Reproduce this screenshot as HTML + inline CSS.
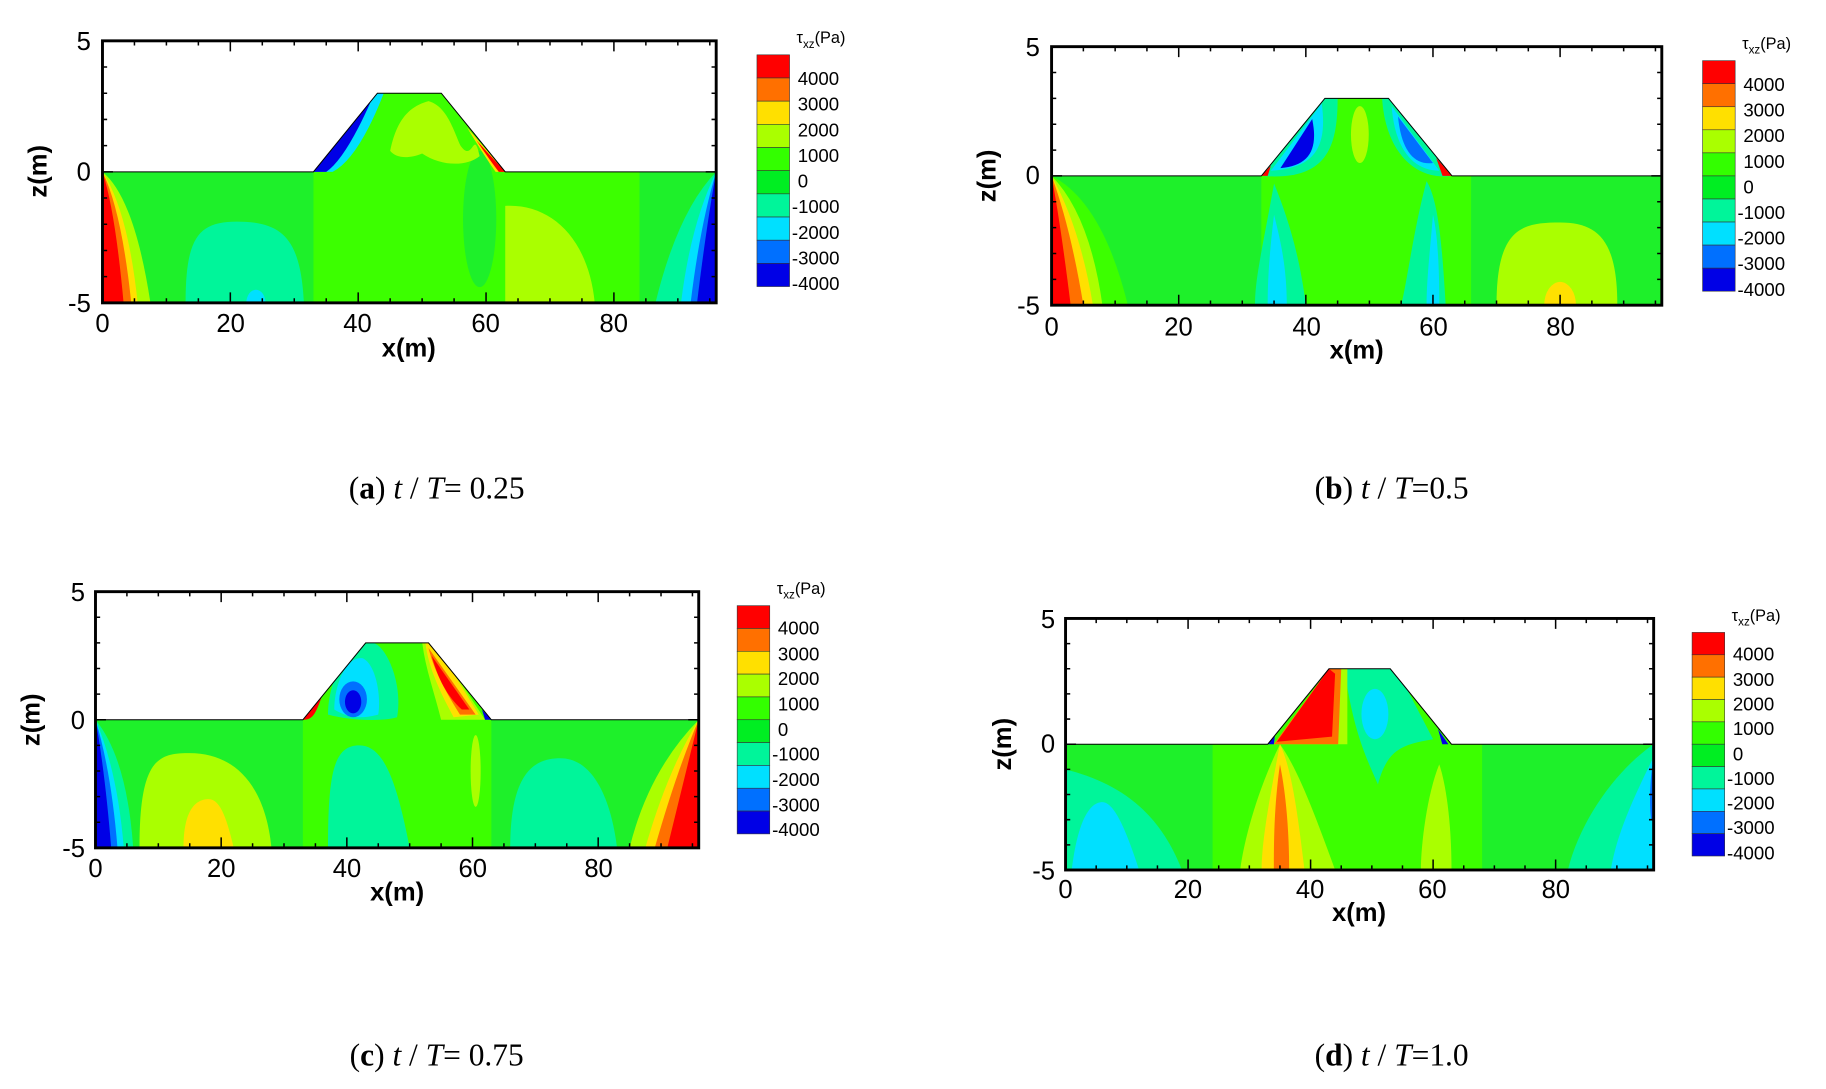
<!DOCTYPE html>
<html><head><meta charset="utf-8"><style>
html,body{margin:0;padding:0;background:#fff;}
svg{display:block}
.tl{font-family:"Liberation Sans",Arial,sans-serif;font-size:22px;fill:#000}
.al{font-family:"Liberation Sans",Arial,sans-serif;font-size:22px;font-weight:bold;fill:#000}
.cl{font-family:"Liberation Sans",Arial,sans-serif;font-size:16px;fill:#000}
.ct{font-family:"Liberation Sans",Arial,sans-serif;font-size:14px;fill:#000}
.cap{font-family:"Liberation Serif","Times New Roman",serif;font-size:27px;fill:#000}
.ln{fill:none;stroke:#000;stroke-width:1;vector-effect:non-scaling-stroke}
</style></head><body>
<svg id="s" width="1826" height="1089" viewBox="0 0 1568 935" xmlns="http://www.w3.org/2000/svg">
<defs>
<clipPath id="dom" clipPathUnits="userSpaceOnUse"><polygon points="0,5 33,5 43,2 53,2 63,5 96,5 96,10 0,10"/></clipPath>
</defs>

<!-- Panel A -->
<g transform="translate(88,35) scale(5.4896,22.5)">
<g clip-path="url(#dom)">
<rect x="0" y="0" width="96" height="10" fill="#1ef02a"/>
<rect x="33" y="0" width="51" height="10" fill="#3cff00"/>
<ellipse cx="59" cy="6.8" rx="2.6" ry="2.6" fill="#1ef02a"/>
<path d="M13,10 C13,7.5 15,6.9 21,6.9 C28,6.9 31,7.5 31.5,10Z" fill="#00f59a"/>
<ellipse cx="24" cy="10" rx="1.5" ry="0.5" fill="#00e0ff"/>
<path d="M63,10 L63,6.3 C70,6.2 76,7.5 77,10Z" fill="#aaff00"/>
<path d="M0,5 Q5,6 7.5,10 L0,10Z" fill="#aaff00"/>
<path d="M0,5 Q4,6.5 5.5,10 L0,10Z" fill="#ffe000"/>
<path d="M0,5 Q3,6.5 4.5,10 L0,10Z" fill="#ff7000"/>
<path d="M0,5 Q2,6.5 3.3,10 L0,10Z" fill="#ff0000"/>
<path d="M96,5 Q90,6.5 86.5,10 L96,10Z" fill="#00f59a"/>
<path d="M96,5 Q92,7 90.5,10 L96,10Z" fill="#00e0ff"/>
<path d="M96,5 Q93.5,7 92,10 L96,10Z" fill="#0070ff"/>
<path d="M96,5 Q94.5,7 93,10 L96,10Z" fill="#0000e6"/>
<path d="M33,5 L43,2 L44,2 Q40,4.5 36,5Z" fill="#00e0ff"/>
<path d="M33,5 L42,2.3 Q38,4.5 35,5Z" fill="#0000e6"/>
<path d="M63,5 L57,3.3 Q60,4.5 61.5,5Z" fill="#ffe000"/>
<path d="M63,5 L58.5,3.8 Q61,4.7 62,5Z" fill="#ff0000"/>
<path d="M45,4.2 C46,3 48,2.5 51,2.3 C54,2.5 55,3.5 56,4 C58,4.7 58,3.3 59,4.4 C57,4.8 53,4.8 50,4.3 C48,4.5 46,4.5 45,4.2Z" fill="#aaff00"/>
</g>
<polyline class="ln" points="0,5 33,5 43,2 53,2 63,5 96,5"/>
</g>

<!-- Panel B -->
<g transform="translate(903,40) scale(5.4583,22.2)">
<g clip-path="url(#dom)">
<rect x="0" y="0" width="96" height="10" fill="#1ef02a"/>
<rect x="33" y="0" width="33" height="10" fill="#3cff00"/>
<path d="M0,5 Q8,6 12,10 L0,10Z" fill="#3cff00"/>
<path d="M70,10 C70,7 74,6.8 80,6.8 C86,6.8 89,7.5 89,10Z" fill="#aaff00"/>
<ellipse cx="80" cy="10" rx="2.5" ry="0.9" fill="#ffe000"/>
<path d="M0,5 Q6,6.5 8,10 L0,10Z" fill="#aaff00"/>
<path d="M0,5 Q4.5,7 6.5,10 L0,10Z" fill="#ffe000"/>
<path d="M0,5 Q3,7 5,10 L0,10Z" fill="#ff7000"/>
<path d="M0,5 Q1.5,7 3,10 L0,10Z" fill="#ff0000"/>
<path d="M35,5.3 C33,8 32,9 32,10 L40,10 C39,8 37,6.5 35,5.3Z" fill="#00f59a"/>
<path d="M35,6.5 C34,8.5 34,9.5 34,10 L37,10 C37,8.5 36,7.5 35,6.5Z" fill="#00e0ff"/>
<path d="M59,5.2 C57,7 56,9 55,10 L62,10 C61.5,8 61,6 59,5.2Z" fill="#00f59a"/>
<path d="M60,6.5 C59.5,8 59,9 59,10 L61,10 C61,8 60.5,7 60,6.5Z" fill="#00e0ff"/>
<path d="M33,5 L43,2 L45,2 C45,4 43,5.2 33,5Z" fill="#00f59a"/>
<path d="M34.5,4.8 L42.5,2.2 C43.5,4 41,4.7 34.5,4.8Z" fill="#00e0ff"/>
<path d="M36,4.7 L41,2.8 C42,4 40.5,4.6 36,4.7Z" fill="#0000e6"/>
<path d="M52,2 L53,2 L63,5 C57,5.2 52.5,4 52,2Z" fill="#00f59a"/>
<path d="M53.5,2.3 L61,4.8 C57,4.8 54,4 53.5,2.3Z" fill="#00e0ff"/>
<path d="M54.5,2.7 L60,4.5 C57,4.6 55,4 54.5,2.7Z" fill="#0070ff"/>
<path d="M33,5 L34.5,4.6 L34,5Z" fill="#ff0000"/>
<path d="M63,5 L60.5,4.3 L61.5,5Z" fill="#ff0000"/>
<ellipse cx="48.5" cy="3.4" rx="1.4" ry="1.1" fill="#aaff00"/>
</g>
<polyline class="ln" points="0,5 33,5 43,2 53,2 63,5 96,5"/>
</g>

<!-- Panel C -->
<g transform="translate(82,508) scale(5.3958,22)">
<g clip-path="url(#dom)">
<rect x="0" y="0" width="96" height="10" fill="#1ef02a"/>
<rect x="33" y="0" width="30" height="10" fill="#3cff00"/>
<path d="M0,5 Q5,6.5 6,10 L0,10Z" fill="#00f59a"/>
<path d="M0,5 Q3.5,7 4.5,10 L0,10Z" fill="#00e0ff"/>
<path d="M0,5 Q2.5,7 3.5,10 L0,10Z" fill="#0070ff"/>
<path d="M0,5 Q1.5,7 2.5,10 L0,10Z" fill="#0000e6"/>
<path d="M7,10 C7,6.5 10,6.3 15,6.3 C22,6.3 27,7.5 28,10Z" fill="#aaff00"/>
<path d="M14,10 C14,8.5 16,8.1 18,8.1 C20,8.1 21,9 22,10Z" fill="#ffe000"/>
<path d="M37,10 C37,7 38,6 42,6 C46,6 48,7.5 50,10Z" fill="#00f59a"/>
<path d="M66,10 C66,7 70,6.5 74,6.5 C79,6.5 82,8 83,10Z" fill="#00f59a"/>
<path d="M96,5 Q88,7 85,10 L96,10Z" fill="#aaff00"/>
<path d="M96,5 Q91,7 87.5,10 L96,10Z" fill="#ffe000"/>
<path d="M96,5 Q92.5,7 89,10 L96,10Z" fill="#ff7000"/>
<path d="M96,5 Q94,7 91,10 L96,10Z" fill="#ff0000"/>
<ellipse cx="60.5" cy="7" rx="0.8" ry="1.4" fill="#aaff00"/>
<path d="M37,4.8 C37,3.5 40,2 44,2 C46,2 49,3.5 48,4.9 C45,5.1 40,5 37,4.8Z" fill="#00f59a"/>
<path d="M38,4.6 C38,3.6 40,2.5 42.5,2.6 C44.5,2.8 45.5,4 45,4.8 C42,5 40,4.9 38,4.6Z" fill="#00e0ff"/>
<ellipse cx="41" cy="4.2" rx="2.2" ry="0.7" fill="#0070ff"/>
<ellipse cx="41" cy="4.3" rx="1.3" ry="0.45" fill="#0000e6"/>
<path d="M33,5 L36,4.1 C35,4.8 34.5,5 33,5Z" fill="#ff0000"/>
<path d="M52,2 L54,2 L62,5 L55,5 C54,4 52.5,3 52,2Z" fill="#aaff00"/>
<path d="M52.5,2 L54,2 L61,4.8 L57,4.9 C55,4 53,3 52.5,2Z" fill="#ffe000"/>
<path d="M53,2.2 L60.5,4.8 L58,4.8 C56,4 54,3.2 53,2.2Z" fill="#ff7000"/>
<path d="M53.5,2.5 L59.5,4.6 L58.3,4.6 C56,4.1 54.5,3.4 53.5,2.5Z" fill="#ff0000"/>
<path d="M63,5 L61.5,4.6 L62,5Z" fill="#0000e6"/>
</g>
<polyline class="ln" points="0,5 33,5 43,2 53,2 63,5 96,5"/>
</g>

<!-- Panel D -->
<g transform="translate(915,531) scale(5.2604,21.6)">
<g clip-path="url(#dom)">
<rect x="0" y="0" width="96" height="10" fill="#1ef02a"/>
<rect x="24" y="0" width="44" height="10" fill="#3cff00"/>
<path d="M0,6 C8,6.5 15,7.5 19,10 L0,10Z" fill="#00f59a"/>
<path d="M1,10 C2,8 4,7.3 6,7.3 C8,7.3 10,8.5 12,10Z" fill="#00e0ff"/>
<path d="M96,5 C90,6 84,8 82,10 L96,10Z" fill="#00f59a"/>
<path d="M96,5.5 C93,7 90,8.5 89,10 L96,10Z" fill="#00e0ff"/>
<path d="M96,5.5 C95.3,6.5 95.3,7.5 95.6,8 L96,8Z" fill="#0070ff"/>
<path d="M35,5 C31,7 29,9 28.5,10 L44,10 C41,8 38,6 35,5Z" fill="#aaff00"/>
<path d="M35,5 C33,7.5 32,9 32,10 L39,10 C38,8 37,6 35,5Z" fill="#ffe000"/>
<path d="M35,5.8 C34,7.5 34,9 34,10 L36.5,10 C36.5,8.5 36,7 35,5.8Z" fill="#ff7000"/>
<path d="M61,5.8 C59,7 58,9 58,10 L63,10 C63,8 62,6.5 61,5.8Z" fill="#aaff00"/>
<path d="M45.5,2 L54,2 L60,4.8 C55,5 52.5,5.2 51,6.6 C49,5.5 47,4.5 45.5,2Z" fill="#00f59a"/>
<ellipse cx="50.5" cy="3.8" rx="2.2" ry="1" fill="#00e0ff"/>
<path d="M34,5 L43,2 L46,2 L46,5Z" fill="#aaff00"/>
<path d="M34,5 L43,2 L45,2 L44.5,5Z" fill="#ff7000"/>
<path d="M34.5,4.9 L43,2 L44,2.2 L43.5,4.7Z" fill="#ff0000"/>
<path d="M33,5 L34.3,4.4 L34,5Z" fill="#0000e6"/>
<path d="M62.5,5 L60.8,4.4 L61.5,5Z" fill="#0000e6"/>
</g>
<polyline class="ln" points="0,5 33,5 43,2 53,2 63,5 96,5"/>
</g>

<g id="frames"></g>

<!-- Text A -->
<text class="tl" x="78" y="43" text-anchor="end">5</text>
<text class="tl" x="78" y="155" text-anchor="end">0</text>
<text class="tl" x="78" y="268" text-anchor="end">-5</text>
<text class="tl" x="88" y="285" text-anchor="middle">0</text>
<text class="tl" x="198" y="285" text-anchor="middle">20</text>
<text class="tl" x="307" y="285" text-anchor="middle">40</text>
<text class="tl" x="417" y="285" text-anchor="middle">60</text>
<text class="tl" x="527" y="285" text-anchor="middle">80</text>
<text class="al" x="351" y="306" text-anchor="middle">x(m)</text>
<text class="al" transform="translate(40,147) rotate(-90)" text-anchor="middle">z(m)</text>
<text class="ct" x="684" y="37">τ<tspan font-size="10" dy="4">xz</tspan><tspan dy="-4">(Pa)</tspan></text>
<text class="cl" x="685" y="73">4000</text><text class="cl" x="685" y="95">3000</text><text class="cl" x="685" y="117">2000</text><text class="cl" x="685" y="139">1000</text><text class="cl" x="685" y="161">0</text><text class="cl" x="680" y="183">-1000</text><text class="cl" x="680" y="205">-2000</text><text class="cl" x="680" y="227">-3000</text><text class="cl" x="680" y="249">-4000</text>
<text class="cap" x="375" y="428" text-anchor="middle">(<tspan font-weight="bold">a</tspan>) <tspan font-style="italic">t</tspan> / <tspan font-style="italic">T</tspan>= 0.25</text>

<!-- Text B -->
<text class="tl" x="893" y="48" text-anchor="end">5</text>
<text class="tl" x="893" y="158" text-anchor="end">0</text>
<text class="tl" x="893" y="270" text-anchor="end">-5</text>
<text class="tl" x="903" y="288" text-anchor="middle">0</text>
<text class="tl" x="1012" y="288" text-anchor="middle">20</text>
<text class="tl" x="1122" y="288" text-anchor="middle">40</text>
<text class="tl" x="1231" y="288" text-anchor="middle">60</text>
<text class="tl" x="1340" y="288" text-anchor="middle">80</text>
<text class="al" x="1165" y="308" text-anchor="middle">x(m)</text>
<text class="al" transform="translate(855,151) rotate(-90)" text-anchor="middle">z(m)</text>
<text class="ct" x="1496" y="42">τ<tspan font-size="10" dy="4">xz</tspan><tspan dy="-4">(Pa)</tspan></text>
<text class="cl" x="1497" y="78">4000</text><text class="cl" x="1497" y="100">3000</text><text class="cl" x="1497" y="122">2000</text><text class="cl" x="1497" y="144">1000</text><text class="cl" x="1497" y="166">0</text><text class="cl" x="1492" y="188">-1000</text><text class="cl" x="1492" y="210">-2000</text><text class="cl" x="1492" y="232">-3000</text><text class="cl" x="1492" y="254">-4000</text>
<text class="cap" x="1195" y="428" text-anchor="middle">(<tspan font-weight="bold">b</tspan>) <tspan font-style="italic">t</tspan> / <tspan font-style="italic">T</tspan>=0.5</text>

<!-- Text C -->
<text class="tl" x="73" y="516" text-anchor="end">5</text>
<text class="tl" x="73" y="626" text-anchor="end">0</text>
<text class="tl" x="73" y="736" text-anchor="end">-5</text>
<text class="tl" x="82" y="753" text-anchor="middle">0</text>
<text class="tl" x="190" y="753" text-anchor="middle">20</text>
<text class="tl" x="298" y="753" text-anchor="middle">40</text>
<text class="tl" x="406" y="753" text-anchor="middle">60</text>
<text class="tl" x="514" y="753" text-anchor="middle">80</text>
<text class="al" x="341" y="773" text-anchor="middle">x(m)</text>
<text class="al" transform="translate(34,618) rotate(-90)" text-anchor="middle">z(m)</text>
<text class="ct" x="667" y="510">τ<tspan font-size="10" dy="4">xz</tspan><tspan dy="-4">(Pa)</tspan></text>
<text class="cl" x="668" y="545">4000</text><text class="cl" x="668" y="567">3000</text><text class="cl" x="668" y="588">2000</text><text class="cl" x="668" y="610">1000</text><text class="cl" x="668" y="632">0</text><text class="cl" x="663" y="653">-1000</text><text class="cl" x="663" y="675">-2000</text><text class="cl" x="663" y="697">-3000</text><text class="cl" x="663" y="718">-4000</text>
<text class="cap" x="375" y="915" text-anchor="middle">(<tspan font-weight="bold">c</tspan>) <tspan font-style="italic">t</tspan> / <tspan font-style="italic">T</tspan>= 0.75</text>

<!-- Text D -->
<text class="tl" x="906" y="539" text-anchor="end">5</text>
<text class="tl" x="906" y="646" text-anchor="end">0</text>
<text class="tl" x="906" y="755" text-anchor="end">-5</text>
<text class="tl" x="915" y="771" text-anchor="middle">0</text>
<text class="tl" x="1020" y="771" text-anchor="middle">20</text>
<text class="tl" x="1125" y="771" text-anchor="middle">40</text>
<text class="tl" x="1230" y="771" text-anchor="middle">60</text>
<text class="tl" x="1336" y="771" text-anchor="middle">80</text>
<text class="al" x="1167" y="791" text-anchor="middle">x(m)</text>
<text class="al" transform="translate(868,639) rotate(-90)" text-anchor="middle">z(m)</text>
<text class="ct" x="1487" y="533">τ<tspan font-size="10" dy="4">xz</tspan><tspan dy="-4">(Pa)</tspan></text>
<text class="cl" x="1488" y="567">4000</text><text class="cl" x="1488" y="589">3000</text><text class="cl" x="1488" y="610">2000</text><text class="cl" x="1488" y="631">1000</text><text class="cl" x="1488" y="653">0</text><text class="cl" x="1483" y="674">-1000</text><text class="cl" x="1483" y="695">-2000</text><text class="cl" x="1483" y="716">-3000</text><text class="cl" x="1483" y="738">-4000</text>
<text class="cap" x="1195" y="915" text-anchor="middle">(<tspan font-weight="bold">d</tspan>) <tspan font-style="italic">t</tspan> / <tspan font-style="italic">T</tspan>=1.0</text>
</svg>
<script>
(function(){
var NS="http://www.w3.org/2000/svg",g=document.getElementById("frames");
function el(n,a){var e=document.createElementNS(NS,n);for(var k in a)e.setAttribute(k,a[k]);g.appendChild(e);return e;}
var P=[[88,615,35,260,650,47,246],[903,1427,40,262,1462,52,250],[82,600,508,728,633,520,716],[915,1420,531,747,1453,543,735]];
var C=["#ff0000","#ff7000","#ffe000","#aaff00","#33ff00","#00ee22","#00f59a","#00e0ff","#0070ff","#0000e6"];
P.forEach(function(p){
 var L=p[0],R=p[1],T=p[2],B=p[3],sx=(R-L)/96,sy=(B-T)/10,d="";
 for(var x=0;x<=96;x+=5){var X=L+x*sx,len=(x%20==0)?9:4;d+="M"+X+","+B+"v-"+len+"M"+X+","+T+"v"+len;}
 for(var z=0;z<=10;z++){var Y=T+z*sy,len=(z%5==0)?9:4;d+="M"+L+","+Y+"h"+len+"M"+R+","+Y+"h-"+len;}
 el("path",{d:d,stroke:"#000","stroke-width":"1.3",fill:"none"});
 el("rect",{x:L,y:T,width:R-L,height:B-T,fill:"none",stroke:"#000","stroke-width":"2.5"});
 var cx=p[4],ct=p[5],cb=p[6],h=(cb-ct)/10;
 for(var i=0;i<10;i++)el("rect",{x:cx,y:ct+i*h,width:28,height:h,fill:C[i],stroke:"#333","stroke-width":"0.5"});
});
})();
</script>
</body></html>
